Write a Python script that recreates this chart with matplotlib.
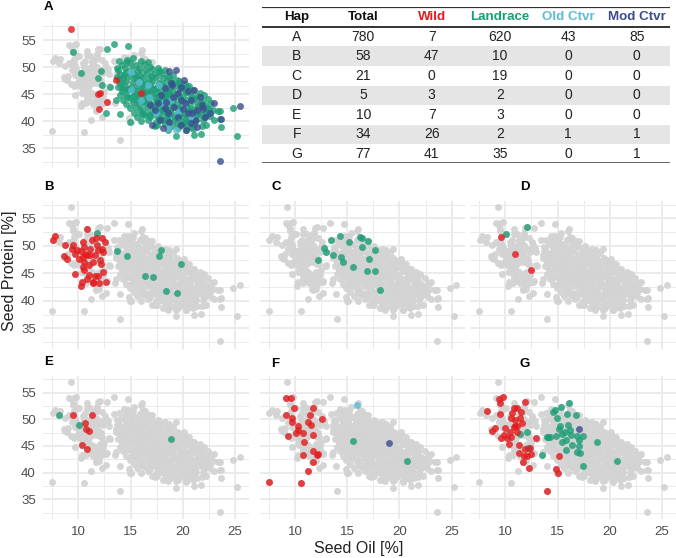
import matplotlib.pyplot as plt
import numpy as np

plt.rcParams['font.family'] = ['Liberation Sans', 'DejaVu Sans']

GREY = '#D3D3D3'
COLS = {'Wild': '#E41A1C', 'Landrace': '#1B9E77',
        'Old Ctvr': '#5BBCD6', 'Mod Ctvr': '#3C4C90'}

# ---- points per haplotype / germplasm class (seed oil %, seed protein %) ----
a_wild = [(9.26, 57.0), (11.92, 45.0), (12.05, 45.3), (12.72, 43.6), (11.99, 42.2),
          (13.59, 47.7), (15.99, 45.15)]

a_land = [
    # scattered
    (9.52, 52.7), (10.22, 49.0), (12.72, 53.3), (13.37, 54.2), (14.71, 53.9), (12.15, 49.3),
    (11.92, 48.0), (12.31, 46.7), (13.01, 46.3), (12.66, 41.5), (13.91, 51.1), (13.75, 49.8),
    (14.62, 51.4), (13.59, 43.9), (13.97, 41.3), (14.97, 39.9), (17.53, 39.3), (19.36, 37.2),
    (21.06, 37.5), (21.76, 37.6), (22.24, 39.3), (23.69, 38.9), (23.59, 40.4), (23.59, 41.9),
    (24.8, 42.4), (25.22, 37.3), (23.4, 41.9),
    # main cloud
    (14.6, 51.0), (15.2, 51.6), (16.0, 51.2), (16.7, 50.9),
    (14.2, 50.3), (14.9, 50.8), (15.5, 50.4), (16.3, 50.6), (16.9, 50.1), (17.6, 49.9),
    (13.8, 49.5), (14.5, 49.9), (15.1, 49.6), (15.8, 49.8), (16.4, 49.4), (17.1, 49.7),
    (17.7, 49.2), (18.3, 49.5),
    (14.0, 48.7), (14.6, 49.1), (15.3, 48.8), (15.9, 48.6), (16.6, 49.0), (17.2, 48.7),
    (17.9, 48.9), (18.5, 48.4), (19.1, 48.6),
    (13.7, 48.2), (14.3, 47.9), (14.9, 48.3), (15.6, 48.0), (16.2, 48.2), (16.8, 47.8),
    (17.4, 48.1), (18.1, 47.9), (18.7, 48.2), (19.4, 47.7),
    (14.0, 47.1), (14.6, 47.5), (15.2, 47.2), (15.9, 47.4), (16.5, 47.0), (17.1, 47.4),
    (17.7, 47.1), (18.4, 47.3), (19.0, 47.0), (19.6, 47.4), (20.2, 46.9),
    (13.8, 46.4), (14.4, 46.7), (15.0, 46.3), (15.6, 46.6), (16.2, 46.3), (16.9, 46.7),
    (17.5, 46.4), (18.1, 46.6), (18.7, 46.2), (19.3, 46.5), (19.9, 46.3), (20.6, 46.6),
    (14.2, 45.6), (14.8, 45.9), (15.4, 45.5), (16.0, 45.8), (16.6, 45.6), (17.2, 45.9),
    (17.8, 45.5), (18.4, 45.8), (19.0, 45.6), (19.7, 45.9), (20.3, 45.4), (21.0, 45.7),
    (21.6, 45.3),
    (14.0, 44.8), (14.6, 45.1), (15.2, 44.7), (15.8, 45.0), (16.4, 44.8), (17.0, 45.1),
    (17.6, 44.7), (18.2, 45.0), (18.8, 44.8), (19.4, 45.1), (20.0, 44.7), (20.7, 45.0),
    (21.4, 44.6), (22.0, 44.8),
    (14.3, 44.0), (14.9, 44.3), (15.5, 43.9), (16.1, 44.2), (16.7, 44.0), (17.3, 44.3),
    (17.9, 43.9), (18.5, 44.2), (19.1, 44.0), (19.7, 44.3), (20.4, 43.9), (21.1, 44.2),
    (21.8, 43.8), (22.4, 44.1),
    (14.6, 43.1), (15.2, 43.5), (15.8, 43.2), (16.4, 43.4), (17.0, 43.1), (17.6, 43.5),
    (18.2, 43.2), (18.8, 43.4), (19.4, 43.1), (20.0, 43.5), (20.7, 43.2), (21.4, 43.4),
    (22.1, 43.0), (22.7, 43.3),
    (14.9, 42.4), (15.5, 42.7), (16.1, 42.3), (16.7, 42.6), (17.3, 42.4), (17.9, 42.7),
    (18.5, 42.3), (19.1, 42.6), (19.7, 42.4), (20.4, 42.7), (21.1, 42.3), (21.8, 42.6),
    (22.5, 42.2),
    (15.3, 41.6), (15.9, 41.9), (16.5, 41.5), (17.1, 41.8), (17.7, 41.6), (18.3, 41.9),
    (18.9, 41.5), (19.5, 41.8), (20.1, 41.6), (20.8, 41.9), (21.5, 41.5), (22.2, 41.7),
    (15.6, 40.8), (16.3, 41.1), (16.9, 40.7), (17.5, 41.0), (18.1, 40.8), (18.7, 41.1),
    (19.3, 40.7), (19.9, 41.0), (20.6, 40.8), (21.3, 41.1), (22.0, 40.7), (22.6, 40.9),
    (16.0, 40.0), (16.7, 40.3), (17.4, 39.9), (18.0, 40.2), (18.6, 40.0), (19.2, 40.3),
    (19.9, 39.9), (20.5, 40.2), (21.2, 40.0), (21.9, 40.2),
    (17.3, 39.2), (18.3, 39.5), (19.0, 39.1), (19.7, 39.4), (20.4, 39.2), (21.1, 39.5),
    (21.8, 39.1),
    (18.6, 38.4), (19.5, 38.7), (20.3, 38.3), (21.0, 38.6),
    # in-between core points
    (15.5, 47.9), (16.2, 46.9), (17.0, 46.0), (17.8, 46.9), (18.6, 45.3), (19.3, 44.4),
    (20.1, 45.9), (20.9, 44.5), (21.7, 43.4), (16.8, 44.6), (17.5, 43.8), (18.3, 44.6),
    (19.0, 43.7), (19.8, 42.9), (20.6, 42.0), (21.5, 42.9), (22.3, 42.5), (15.7, 44.4),
    (16.3, 43.7), (17.2, 42.9), (18.0, 42.0), (18.8, 42.0), (19.6, 41.2), (20.3, 40.5),
    (21.0, 40.4), (21.7, 41.2), (22.3, 41.2), (16.1, 41.4), (16.9, 41.2), (17.7, 40.5),
    (18.5, 40.4), (19.4, 39.6), (20.1, 39.6), (20.8, 38.9), (14.8, 46.0), (15.3, 45.2),
    (16.5, 45.3), (17.4, 45.3), (18.0, 44.3), (19.6, 46.9), (20.4, 46.3), (18.9, 47.5),
    (17.0, 48.4), (15.7, 49.2), (14.4, 48.5), (13.9, 47.6), (14.2, 46.1), (14.7, 44.4),
    (22.9, 42.1), (23.0, 40.3),
]

a_old = [(15.03, 49.15), (15.83, 47.31), (16.63, 46.69), (15.03, 45.77), (18.08, 43.31),
         (18.56, 38.69), (19.36, 38.38), (17.76, 46.69), (16.8, 44.54), (20.8, 40.85),
         (19.52, 41.77), (18.9, 43.9), (17.4, 41.5), (16.0, 43.9), (20.1, 43.0)]

a_mod = [(18.7, 49.2), (19.36, 49.5), (18.9, 47.0), (19.84, 46.4), (20.5, 45.5), (21.1, 45.8),
         (21.6, 44.5), (19.84, 43.9), (19.2, 42.7), (18.56, 41.5), (19.5, 40.8), (20.5, 41.5),
         (21.4, 42.1), (21.3, 40.2), (20.8, 39.6), (19.84, 39.3), (18.1, 38.7), (22.1, 40.8),
         (22.98, 43.4), (23.7, 40.5), (25.45, 42.9), (23.55, 32.6), (17.9, 44.8), (18.4, 43.6),
         (19.04, 44.5), (20.2, 43.3), (20.8, 43.9), (19.5, 45.2), (17.8, 40.2), (18.7, 39.9),
         (20.3, 38.4), (18.25, 42.4), (21.8, 43.0), (17.3, 42.1), (20.0, 42.3), (19.0, 46.7),
         (18.25, 46.1), (20.9, 41.5), (21.4, 39.0), (20.1, 47.6), (17.6, 43.3), (16.9, 43.0),
         (17.1, 39.3), (22.6, 41.6), (21.9, 42.2)]

b_wild = [(7.77, 51.75), (7.55, 51.14), (8.73, 50.22), (8.63, 48.14), (8.95, 47.59), (9.52, 50.1),
          (9.68, 44.9), (9.9, 49.18), (10.32, 43.37), (10.22, 42.75), (10.48, 50.71), (10.57, 49.79),
          (10.64, 48.57), (10.8, 53.04), (10.54, 47.04), (10.57, 45.51), (11.05, 44.71), (11.11, 49.49),
          (11.11, 48.26), (11.37, 43.18), (11.43, 47.04), (11.59, 44.59), (11.69, 51.45), (11.75, 50.1),
          (11.91, 49.18), (12.07, 47.35), (12.13, 46.73), (12.23, 49.49), (12.23, 51.33), (12.32, 45.2),
          (12.55, 50.71), (12.64, 43.49), (12.01, 43.24), (11.59, 48.26), (11.05, 46.43), (10.8, 48.26),
          (11.27, 51.02), (10.25, 49.0), (10.1, 47.65), (10.8, 43.98), (10.41, 46.12), (11.43, 43.49),
          (11.91, 44.59), (12.39, 48.88), (9.68, 48.57), (9.36, 49.49), (10.48, 47.96)]
b_land = [(11.82, 52.37), (13.66, 49.0), (14.68, 48.08), (16.43, 44.53), (17.17, 44.28),
          (17.96, 49.24), (17.74, 48.14), (19.87, 46.61), (18.44, 41.71), (19.46, 41.34)]

c_land = [(13.45, 51.06), (14.35, 51.85), (15.18, 50.76), (16.23, 51.67), (16.39, 51.48),
          (17.03, 50.88), (16.45, 49.85), (17.67, 49.24), (12.81, 49.67), (12.94, 48.82),
          (12.17, 47.48), (13.64, 48.27), (14.38, 47.97), (14.63, 47.0), (15.59, 46.21),
          (17.12, 47.61), (16.93, 45.48), (17.67, 45.42), (18.15, 42.03)]

d_wild = [(9.59, 51.55), (10.96, 48.58), (12.48, 45.67)]
d_land = [(10.1, 52.09), (12.1, 53.36)]

e_wild = [(9.49, 50.75), (11.27, 50.88), (10.6, 49.25), (10.73, 48.19), (11.02, 47.75),
          (10.38, 45.25), (10.79, 44.5)]
e_land = [(8.19, 50.75), (10.1, 49.0), (18.89, 46.25)]

f_wild = [(9.11, 54.06), (9.62, 54.06), (9.9, 52.06), (9.11, 50.75), (9.68, 50.19), (10.26, 48.81),
          (10.1, 47.5), (10.73, 47.5), (9.3, 46.81), (10.89, 45.75), (11.44, 50.81), (11.76, 52.06),
          (11.53, 48.88), (12.62, 50.06), (11.76, 47.06), (11.73, 44.0), (12.24, 43.44), (10.73, 43.31),
          (11.73, 41.94), (11.21, 40.31), (7.51, 38.19), (10.54, 38.06), (9.74, 49.56), (10.32, 48.0),
          (11.28, 49.56), (12.08, 43.31)]
f_land = [(15.53, 45.88), (20.73, 42.25)]
f_old = [(15.97, 52.63)]
f_mod = [(19.04, 45.63)]

g_wild = [(8.25, 51.56), (9.36, 53.75), (9.78, 54.25), (9.52, 53.0), (10.8, 52.19), (11.11, 52.06),
          (11.53, 51.31), (11.91, 53.31), (10.57, 50.19), (10.96, 49.88), (11.43, 50.31), (10.8, 48.63),
          (11.11, 48.81), (9.04, 48.44), (8.73, 47.81), (9.94, 48.31), (9.62, 46.56), (10.16, 46.56),
          (10.57, 46.75), (10.32, 45.31), (11.27, 45.19), (10.89, 48.81), (12.93, 46.56), (12.39, 44.69),
          (11.91, 44.44), (11.27, 43.63), (11.75, 43.19), (12.07, 43.13), (12.48, 43.44), (11.66, 42.06),
          (12.29, 40.81), (15.1, 43.19), (14.87, 40.63), (15.03, 39.88), (13.98, 36.63), (10.64, 51.13),
          (11.59, 49.25), (9.84, 47.06), (10.48, 47.56), (11.11, 47.69), (9.52, 50.94)]
g_land = [(16.05, 53.13), (15.35, 52.25), (14.52, 51.44), (15.89, 51.0), (16.78, 50.81), (14.94, 50.19),
          (15.19, 48.75), (15.1, 48.19), (15.41, 47.31), (15.73, 47.56), (14.87, 46.88), (13.98, 46.75),
          (14.24, 46.75), (11.43, 47.19), (12.07, 47.69), (16.31, 47.06), (15.83, 46.13), (16.85, 46.81),
          (17.48, 46.94), (17.01, 46.06), (17.01, 45.06), (16.85, 43.94), (17.13, 43.63), (15.8, 44.25),
          (13.5, 43.31), (12.17, 44.56), (17.48, 41.31), (18.76, 45.81), (20.67, 42.25), (14.78, 51.75),
          (16.21, 48.0), (15.41, 45.81), (16.37, 45.19), (14.08, 46.75), (15.99, 48.94)]
g_mod = [(17.01, 48.25)]

# ---- summary table ----
hap_names = ['A', 'B', 'C', 'D', 'E', 'F', 'G']
total_n = [780, 58, 21, 5, 10, 34, 77]
wild_n = [7, 47, 0, 3, 7, 26, 41]
land_n = [620, 10, 19, 2, 3, 2, 35]
old_n = [43, 0, 0, 0, 0, 1, 0]
mod_n = [85, 0, 0, 0, 0, 1, 1]

haps = {
    'A': {'Landrace': a_land, 'Old Ctvr': a_old, 'Mod Ctvr': a_mod, 'Wild': a_wild},
    'B': {'Landrace': b_land, 'Wild': b_wild},
    'C': {'Landrace': c_land},
    'D': {'Landrace': d_land, 'Wild': d_wild},
    'E': {'Landrace': e_land, 'Wild': e_wild},
    'F': {'Landrace': f_land, 'Old Ctvr': f_old, 'Mod Ctvr': f_mod, 'Wild': f_wild},
    'G': {'Landrace': g_land, 'Mod Ctvr': g_mod, 'Wild': g_wild},
}

W, H = 676, 558
fig = plt.figure(figsize=(W / 100, H / 100), dpi=100)


def px_axes(l, t, r, b):
    return fig.add_axes([l / W, 1 - b / H, (r - l) / W, (b - t) / H])


def style(ax, xlab, ylab):
    ax.set_xlim(6.6, 26.3)
    ax.set_ylim(31.3, 58.2)
    ax.set_xticks([10, 15, 20, 25])
    ax.set_xticks([7.5, 12.5, 17.5, 22.5], minor=True)
    ax.set_yticks([35, 40, 45, 50, 55])
    ax.set_yticks([32.5, 37.5, 42.5, 47.5, 52.5, 57.5], minor=True)
    ax.grid(which='major', color='#EBEBEB', lw=1.4)
    ax.grid(which='minor', color='#EBEBEB', lw=0.7)
    ax.set_axisbelow(True)
    for s in ax.spines.values():
        s.set_visible(False)
    ax.tick_params(which='both', length=0, labelsize=9.5, labelcolor='#4D4D4D', pad=5)
    if not xlab:
        ax.set_xticklabels([])
    if not ylab:
        ax.set_yticklabels([])


def pts(lst):
    arr = np.array(lst, dtype=float)
    return arr[:, 0], arr[:, 1]


all_pts = {h: [p for grp in d.values() for p in grp] for h, d in haps.items()}

lefts = [42.8, 259.5, 469.8]
pw = 205.8
rows = [(22.7, 168.4), (200.7, 348.6), (375.6, 519.0)]
layout = {'A': (0, 0), 'B': (1, 0), 'C': (1, 1), 'D': (1, 2),
          'E': (2, 0), 'F': (2, 1), 'G': (2, 2)}
letter_pos = {'A': (44, 10), 'B': (44, 190), 'C': (271, 190), 'D': (520, 190),
              'E': (44, 365), 'F': (271, 367), 'G': (520, 367)}
MS = 25

for h, (r, c) in layout.items():
    t, b = rows[r]
    ax = px_axes(lefts[c], t, lefts[c] + pw, b)
    style(ax, xlab=(r == 2), ylab=(c == 0))
    if h == 'A':
        grey = [p for k, v in all_pts.items() if k != 'A' for p in v]
    else:
        grey = [p for v in all_pts.values() for p in v]
    gx, gy = pts(grey)
    ax.scatter(gx, gy, s=MS, color=GREY, lw=0, alpha=0.95)
    for cls, grp in haps[h].items():
        x, y = pts(grp)
        ax.scatter(x, y, s=MS, color=COLS[cls], lw=0, alpha=0.8)
    lx, ly = letter_pos[h]
    fig.text(lx / W, 1 - ly / H, h, fontsize=9.5, fontweight='bold', va='baseline')

fig.text(10 / W, 1 - 271 / H, 'Seed Protein [%]', rotation=90, fontsize=11.5,
         color='#222222', ha='center', va='center')
fig.text(359 / W, 1 - 549 / H, 'Seed Oil [%]', fontsize=11.5,
         color='#222222', ha='center', va='center')

# ---- table ----
tx = px_axes(262, 6.7, 670, 163.3)
tx.set_xlim(262, 670)
tx.set_ylim(163.3, 6.7)
tx.axis('off')
col_x = [296.7, 363.3, 431.7, 500, 568.3, 636.7]
headers = ['Hap', 'Total', 'Wild', 'Landrace', 'Old Ctvr', 'Mod Ctvr']
head_cols = ['#111111', '#111111', COLS['Wild'], COLS['Landrace'], COLS['Old Ctvr'], COLS['Mod Ctvr']]
row_h = 19.55
y0 = 36.7
for i in range(len(hap_names)):
    if i % 2 == 1:
        tx.axhspan(y0 + i * row_h - row_h / 2, y0 + i * row_h + row_h / 2,
                   color='#E5E5E5', lw=0)
tx.axhline(7.2, color='#333333', lw=1.6)
tx.axhline(26.7, color='#333333', lw=1.4)
tx.axhline(163.0, color='#666666', lw=1.4)
for xc, hd, hc in zip(col_x, headers, head_cols):
    tx.text(xc, 16.9, hd, ha='center', va='center', fontsize=9.6, fontweight='bold', color=hc)
cols_data = [hap_names, total_n, wild_n, land_n, old_n, mod_n]
for j, col in enumerate(cols_data):
    for i, v in enumerate(col):
        tx.text(col_x[j], y0 + i * row_h, str(v), ha='center', va='center',
                fontsize=10, color='#222222')

fig.savefig('out.png', dpi=100)
